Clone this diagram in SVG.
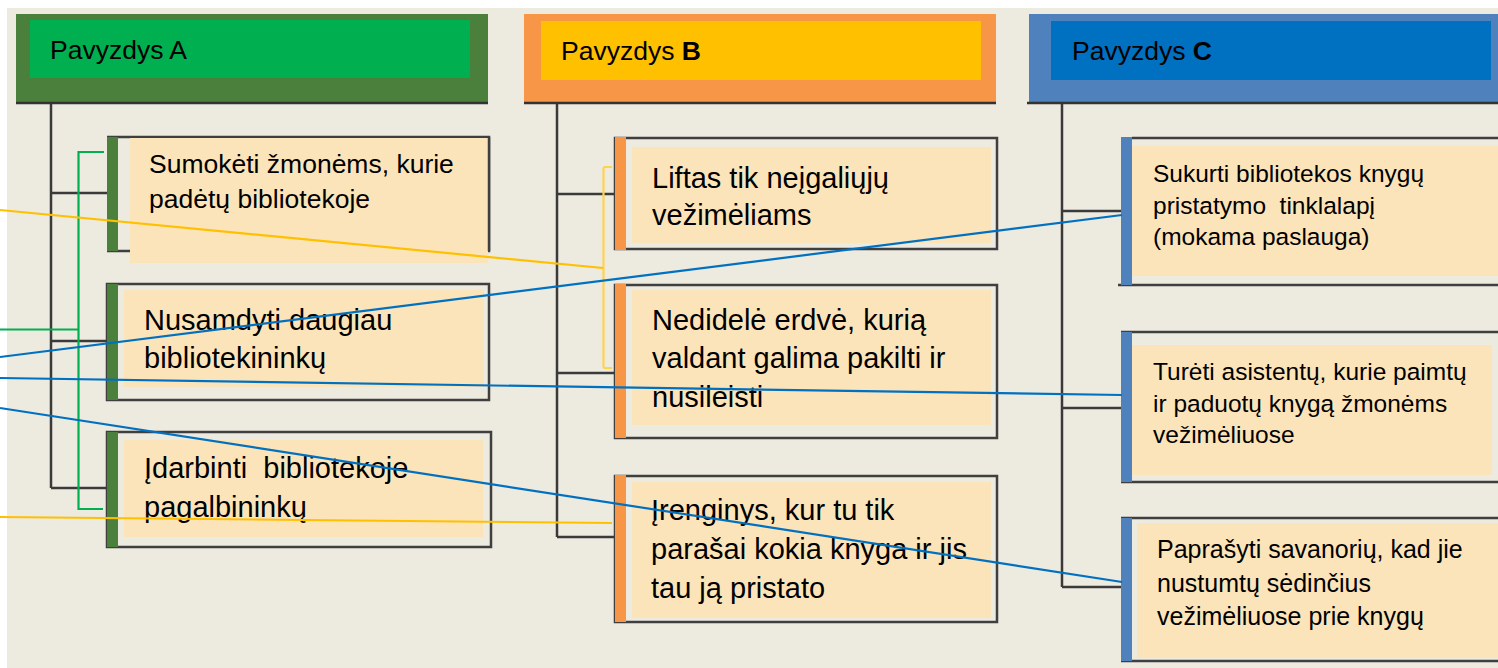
<svg xmlns="http://www.w3.org/2000/svg" width="1498" height="668" viewBox="0 0 1498 668">
<style>
text{font-family:"Liberation Sans",Arial,sans-serif;fill:#000;white-space:pre}
.tree{stroke:#3a3a3a;stroke-width:2.5;fill:none}
.out{stroke:#3f3f3f;stroke-width:2.5;fill:none}
.fill{fill:#fce4ba}
.hbar{stroke:#333;stroke-width:2.5}
.blue{stroke:#0070c0;stroke-width:2.2;fill:none}
.yel{stroke:#ffc000;stroke-width:2.2;fill:none}
.ybr{stroke:#ffd34f;stroke-width:2.2;fill:none}
.grn{stroke:#00b050;stroke-width:2.2;fill:none}
.ga{fill:#4a7f3c}.oa{fill:#f79646}.ba{fill:#4f81bd}
.h{font-size:26.5px}
.t26{font-size:26.5px}.t29{font-size:29px}.t24{font-size:24.5px}.t25{font-size:25px}
</style>
<rect x="0" y="0" width="1498" height="668" fill="#fff"/>
<rect x="7" y="8" width="1491" height="660" fill="#edeae0"/>

<g id="tree-connectors">
<path class="tree" d="M51 104V488M51 193H107M51 341H107M51 488H107"/>
<path class="tree" d="M557 104V537M557 194H615M557 373H615M557 537H615"/>
<path class="tree" d="M1062 104V587M1062 211H1121M1062 408H1121M1062 587H1121"/>
</g>

<g id="header-a">
<rect x="16" y="14" width="472" height="90" class="ga"/>
<rect x="30" y="20" width="440" height="58" fill="#00b050"/>
<line x1="16" y1="103" x2="488" y2="103" class="hbar"/>
<text x="50" y="59" class="h">Pavyzdys A</text>
</g>
<g id="header-b">
<rect x="524" y="14" width="472" height="90" class="oa"/>
<rect x="541" y="21" width="440" height="59" fill="#ffc000"/>
<line x1="524" y1="103" x2="996" y2="103" class="hbar"/>
<text x="561" y="60" class="h">Pavyzdys <tspan font-weight="bold">B</tspan></text>
</g>
<g id="header-c">
<rect x="1029" y="14" width="469" height="90" class="ba"/>
<rect x="1051" y="21" width="440" height="59" fill="#0070c0"/>
<line x1="1027" y1="103" x2="1498" y2="103" class="hbar"/>
<text x="1072" y="60" class="h">Pavyzdys <tspan font-weight="bold">C</tspan></text>
</g>

<g id="node-a1">
<path class="out" d="M107 251H489V137H107"/>
<rect x="130" y="138" width="358" height="125" class="fill"/>
<line x1="489" y1="137" x2="489" y2="251" class="out"/>
<rect x="107" y="137" width="11" height="114" class="ga"/>
<text x="149" y="173" class="t26">Sumokėti žmonėms, kurie</text>
<text x="149" y="208" class="t26">padėtų bibliotekoje</text>
</g>
<g id="node-a2">
<rect x="107" y="284" width="382" height="116" class="out"/>
<rect x="124" y="290" width="360" height="97" class="fill"/>
<rect x="107" y="284" width="11" height="116" class="ga"/>
<text x="144" y="330" class="t29">Nusamdyti daugiau</text>
<text x="144" y="368" class="t29">bibliotekininkų</text>
</g>
<g id="node-a3">
<rect x="107" y="432" width="384" height="115" class="out"/>
<rect x="124" y="440" width="359" height="97" class="fill"/>
<rect x="107" y="432" width="11" height="115" class="ga"/>
<text x="144" y="478" class="t29">Įdarbinti  bibliotekoje</text>
<text x="144" y="517" class="t29">pagalbininkų</text>
</g>

<g id="node-b1">
<rect x="615" y="138" width="382" height="111" class="out"/>
<rect x="632" y="147" width="359" height="96" class="fill"/>
<rect x="615" y="137" width="11" height="113" class="oa"/>
<text x="652" y="188" class="t29">Liftas tik neįgaliųjų</text>
<text x="652" y="225" class="t29">vežimėliams</text>
</g>
<g id="node-b2">
<rect x="615" y="285" width="382" height="153" class="out"/>
<rect x="632" y="290" width="359" height="135" class="fill"/>
<rect x="615" y="284" width="11" height="154" class="oa"/>
<text x="652" y="330" class="t29">Nedidelė erdvė, kurią</text>
<text x="652" y="368" class="t29">valdant galima pakilti ir</text>
<text x="652" y="407" class="t29">nusileisti</text>
</g>
<g id="node-b3">
<rect x="615" y="476" width="382" height="146" class="out"/>
<rect x="632" y="482" width="359" height="136" class="fill"/>
<rect x="615" y="475" width="11" height="147" class="oa"/>
<text x="651" y="520" class="t29">Įrenginys, kur tu tik</text>
<text x="651" y="559" class="t29">parašai kokia knyga ir jis</text>
<text x="651" y="598" class="t29">tau ją pristato</text>
</g>

<g id="node-c1">
<path class="out" d="M1132 138H1498M1118 285H1498"/>
<rect x="1132" y="146" width="366" height="130" class="fill"/>
<rect x="1121" y="137" width="11" height="148" class="ba"/>
<text x="1153" y="182" class="t24">Sukurti bibliotekos knygų</text>
<text x="1153" y="214" class="t24">pristatymo  tinklalapį</text>
<text x="1153" y="245" class="t24">(mokama paslauga)</text>
</g>
<g id="node-c2">
<path class="out" d="M1121 332H1498M1121 482H1498"/>
<rect x="1132" y="345" width="360" height="130" class="fill"/>
<rect x="1121" y="332" width="11" height="150" class="ba"/>
<text x="1153" y="380" class="t24">Turėti asistentų, kurie paimtų</text>
<text x="1153" y="412" class="t24">ir paduotų knygą žmonėms</text>
<text x="1153" y="443" class="t24">vežimėliuose</text>
</g>
<g id="node-c3">
<path class="out" d="M1121 518H1498M1121 661H1498"/>
<rect x="1137" y="523" width="361" height="135" class="fill"/>
<rect x="1121" y="518" width="11" height="143" class="ba"/>
<text x="1157" y="558" class="t25">Paprašyti savanorių, kad jie</text>
<text x="1157" y="592" class="t25">nustumtų sėdinčius</text>
<text x="1157" y="625" class="t25">vežimėliuose prie knygų</text>
</g>

<g id="cross-connectors">
<path class="grn" d="M104 152H78.5V509H103M0 329.5H78.5"/>
<path class="ybr" d="M612 167H605Q603.5 167 603.5 169V366Q603.5 368 605 368H612"/>
<path class="yel" d="M0 210L603 268"/>
<path class="yel" d="M0 517L612 523"/>
<path class="blue" d="M0 357L1122 215"/>
<path class="blue" d="M0 378L1122 395"/>
<path class="blue" d="M0 408L1122 582"/>
</g>
</svg>
